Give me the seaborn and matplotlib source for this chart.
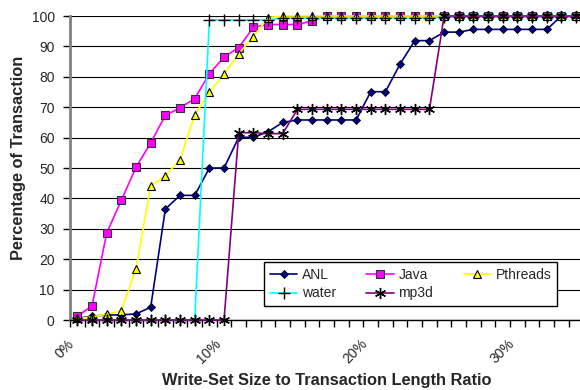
import pandas as pd
import numpy as np
import matplotlib.pyplot as plt
import seaborn as sns
from matplotlib.transforms import ScaledTranslation

# write-set size / transaction length ratio, in percent (one category per 1%)
ratio = list(range(35))
tick_pos = [0, 10, 20, 30]
tick_labels = ["0%", "10%", "20%", "30%"]

anl = [0.5, 1.3, 1.6, 1.7, 2.0, 4.2, 36.5, 41, 41, 50, 50, 60.1, 60.1, 61.9, 65,
       65.8, 65.8, 65.8, 65.8, 65.8, 75.1, 75.1, 84.2, 91.9, 91.9, 94.7, 94.7,
       95.6, 95.6, 95.6, 95.6, 95.6, 95.6, 100, 100]
java = [1.3, 4.6, 28.6, 39.4, 50.2, 58.3, 67.3, 69.8, 72.8, 81, 86.5, 89.6, 96.3,
        97.2, 97.2, 97.2, 98.4, 100, 100, 100, 100, 100, 100, 100, 100, 100, 100,
        100, 100, 100, 100, 100, 100, 100, 100]
pthreads = [0.5, 1.0, 1.9, 3.1, 16.9, 44.1, 47.5, 52.7, 67.5, 74.9, 80.9, 87.6,
            93.2, 99.5, 100, 100, 100, 100, 100, 100, 100, 100, 100, 100, 100, 100,
            100, 100, 100, 100, 100, 100, 100, 100, 100]
water = [0, 0, 0, 0, 0, 0, 0, 0, 0, 98.7, 98.7, 98.7, 98.7, 98.7, 99.3, 99.3, 99.3,
         99.3, 99.3, 99.3, 99.3, 99.3, 99.3, 99.3, 99.3, 99.6, 99.6, 99.6, 99.6,
         99.6, 99.6, 99.6, 99.6, 99.6, 99.6]
mp3d = [0, 0, 0, 0, 0, 0, 0, 0, 0, 0, 0, 61.6, 61.6, 61.3, 61.3, 69.3, 69.3, 69.3,
        69.3, 69.3, 69.3, 69.3, 69.3, 69.3, 69.3, 100, 100, 100, 100, 100, 100, 100,
        100, 100, 100]

df = pd.DataFrame({"ratio": ratio, "ANL": anl, "Java": java, "Pthreads": pthreads,
                   "water": water, "mp3d": mp3d})
long = df.melt(id_vars="ratio", var_name="series", value_name="pct")

sns.set_style("white")
plt.rcParams["font.family"] = ["Liberation Sans", "DejaVu Sans"]

fig = plt.figure(figsize=(5.8, 3.9), dpi=100)
ax = fig.add_axes([70 / 580, 70 / 390, 513.5 / 580, 304 / 390])

styles = {
    "ANL": dict(color="#000080", marker="D", ms=4.5, mfc="#000080", mec="black", mew=0.6),
    "Java": dict(color="#FF00FF", marker="s", ms=6, mfc="#FF00FF", mec="#333333", mew=0.8),
    "Pthreads": dict(color="#FFFF00", marker="^", ms=6, mfc="#FFFF00", mec="black", mew=0.8),
    "water": dict(color="#00FFFF", marker="+", ms=8, mfc="black", mec="black", mew=1.0),
    "mp3d": dict(color="#800080", marker=(6, 2, 0), ms=8, mfc="black", mec="black", mew=1.0),
}

for name in ["ANL", "Java", "Pthreads", "water", "mp3d"]:
    sub = long[long["series"] == name]
    st = styles[name]
    sns.lineplot(data=sub, x="ratio", y="pct", ax=ax, color=st["color"], lw=1.2,
                 marker=st["marker"], markersize=st["ms"], markerfacecolor=st["mfc"],
                 markeredgecolor=st["mec"], markeredgewidth=st["mew"], label=name,
                 clip_on=False, zorder=3)

ax.set_xlim(-0.5, 34.5)
ax.set_ylim(0, 100)
ax.set_yticks(range(0, 101, 10))
ax.yaxis.grid(True, color="black", lw=0.8)
ax.set_axisbelow(True)

ax.set_xticks(tick_pos)
ax.set_xticklabels(tick_labels, rotation=45, ha="right", rotation_mode="anchor")
ax.set_xticks(np.arange(-0.5, 35, 1), minor=True)
ax.tick_params(axis="x", which="major", length=0, pad=12, labelsize=10)
ax.tick_params(axis="x", which="minor", length=5, width=1, color="black", direction="out")
ax.tick_params(axis="y", length=5, width=1, color="black", direction="out", pad=6, labelsize=10)
ax.xaxis.set_ticks_position("bottom")
ax.yaxis.set_ticks_position("left")
shift = ScaledTranslation(-10 / 100, 0, fig.dpi_scale_trans)
for lbl in ax.get_xticklabels():
    lbl.set_transform(lbl.get_transform() + shift)

for s in ["top", "right"]:
    ax.spines[s].set_visible(False)
ax.spines["left"].set_color("#808080")
ax.spines["left"].set_linewidth(2)
ax.spines["bottom"].set_color("black")
ax.spines["bottom"].set_linewidth(1)

ax.set_xlabel("Write-Set Size to Transaction Length Ratio", fontsize=11.8,
              fontweight="bold", va="center")
ax.xaxis.set_label_coords(0.5, (320 - 381) / 304)
ax.set_ylabel("Percentage of Transaction", fontsize=11.8, fontweight="bold", va="center")
ax.yaxis.set_label_coords((19 - 70) / 513.5, (320 - 157.5) / 304)

# matplotlib fills legend columns first; reorder so rows read ANL, Java, Pthreads / water, mp3d
handles, labels = ax.get_legend_handles_labels()
order = [0, 3, 1, 4, 2]
leg = ax.legend([handles[i] for i in order], [labels[i] for i in order], ncol=3,
                loc="center", bbox_to_anchor=(410.5 / 580, 1 - 284 / 390),
                bbox_transform=fig.transFigure, fontsize=10, frameon=True,
                fancybox=False, framealpha=1, edgecolor="black", handlelength=2.0,
                columnspacing=2.2, borderpad=0.4, labelspacing=0.35, handletextpad=0.3)
leg.get_frame().set_linewidth(1)

fig.savefig("out.png", dpi=100)
